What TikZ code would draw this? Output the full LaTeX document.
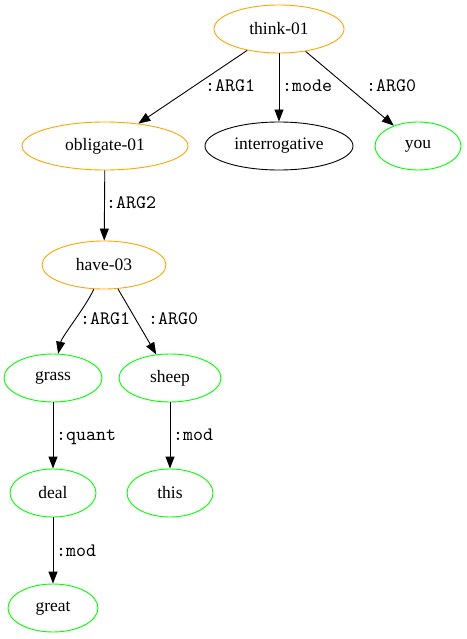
\documentclass[tikz,border=0pt]{standalone}
\usepackage{fontspec}
\setmainfont{Liberation Serif}
\newfontfamily\lblfont{lmmono10-regular.otf}
\usetikzlibrary{shapes.geometric,arrows.meta}
\definecolor{amrorange}{HTML}{FFA500}
\definecolor{amrgreen}{HTML}{00FF00}
\begin{document}
\begin{tikzpicture}[x=1pt,y=-1pt,
  concept/.style={ellipse,draw,line width=0.9pt,inner sep=0pt,minimum height=48pt,
    font=\fontsize{17.5}{20}\selectfont},
  pred/.style={concept,draw=amrorange},
  ent/.style={concept,draw=amrgreen},
  plain/.style={concept,draw=black},
  rel/.style={draw,line width=0.9pt,-{Triangle[length=12pt,width=9pt]}},
  lbl/.style={anchor=base west,inner sep=0pt,font=\lblfont\fontsize{19}{22}\selectfont}]
\useasboundingbox (0,0) rectangle (466,639);

% concepts
\node[pred,minimum width=130pt] (think) at (279,29) {think-01};
\node[pred,minimum width=166pt] (oblig) at (105,146) {obligate-01};
\node[plain,minimum width=148pt] (interr) at (279,146) {interrogative};
\node[ent,minimum width=86pt] (you) at (418,146) {you};
\node[pred,minimum width=124pt] (have) at (104,265) {have-03};
\node[ent,minimum width=98pt] (grass) at (53,378) {grass};
\node[ent,minimum width=102pt] (sheep) at (170,378) {sheep};
\node[ent,minimum width=86pt] (deal) at (53,493) {deal};
\node[ent,minimum width=86pt] (this) at (170,493) {this};
\node[ent,minimum width=90pt] (great) at (53,608) {great};

% relations
\draw[rel] (think) -- (oblig);
\draw[rel] (think) -- (interr);
\draw[rel] (think) -- (you);
\draw[rel] (oblig) -- (have);
\draw[rel] (have) to[out=-113,in=78,looseness=0.6] (grass);
\draw[rel] (have) -- (sheep);
\draw[rel] (grass) -- (deal);
\draw[rel] (sheep) -- (this);
\draw[rel] (deal) -- (great);

% relation labels
\node[lbl] (l1) at (205,92) {:ARG1};
\node[lbl] (l2) at (282,92) {:mode};
\node[lbl] (l3) at (366,92) {:ARG0};
\node[lbl] (l4) at (106,208) {:ARG2};
\node[lbl] (l5) at (80,324) {:ARG1};
\node[lbl] (l6) at (148,324) {:ARG0};
\node[lbl] (l7) at (56,440) {:quant};
\node[lbl] (l8) at (173,440) {:mod};
\node[lbl] (l9) at (56,556) {:mod};
\end{tikzpicture}
\end{document}
